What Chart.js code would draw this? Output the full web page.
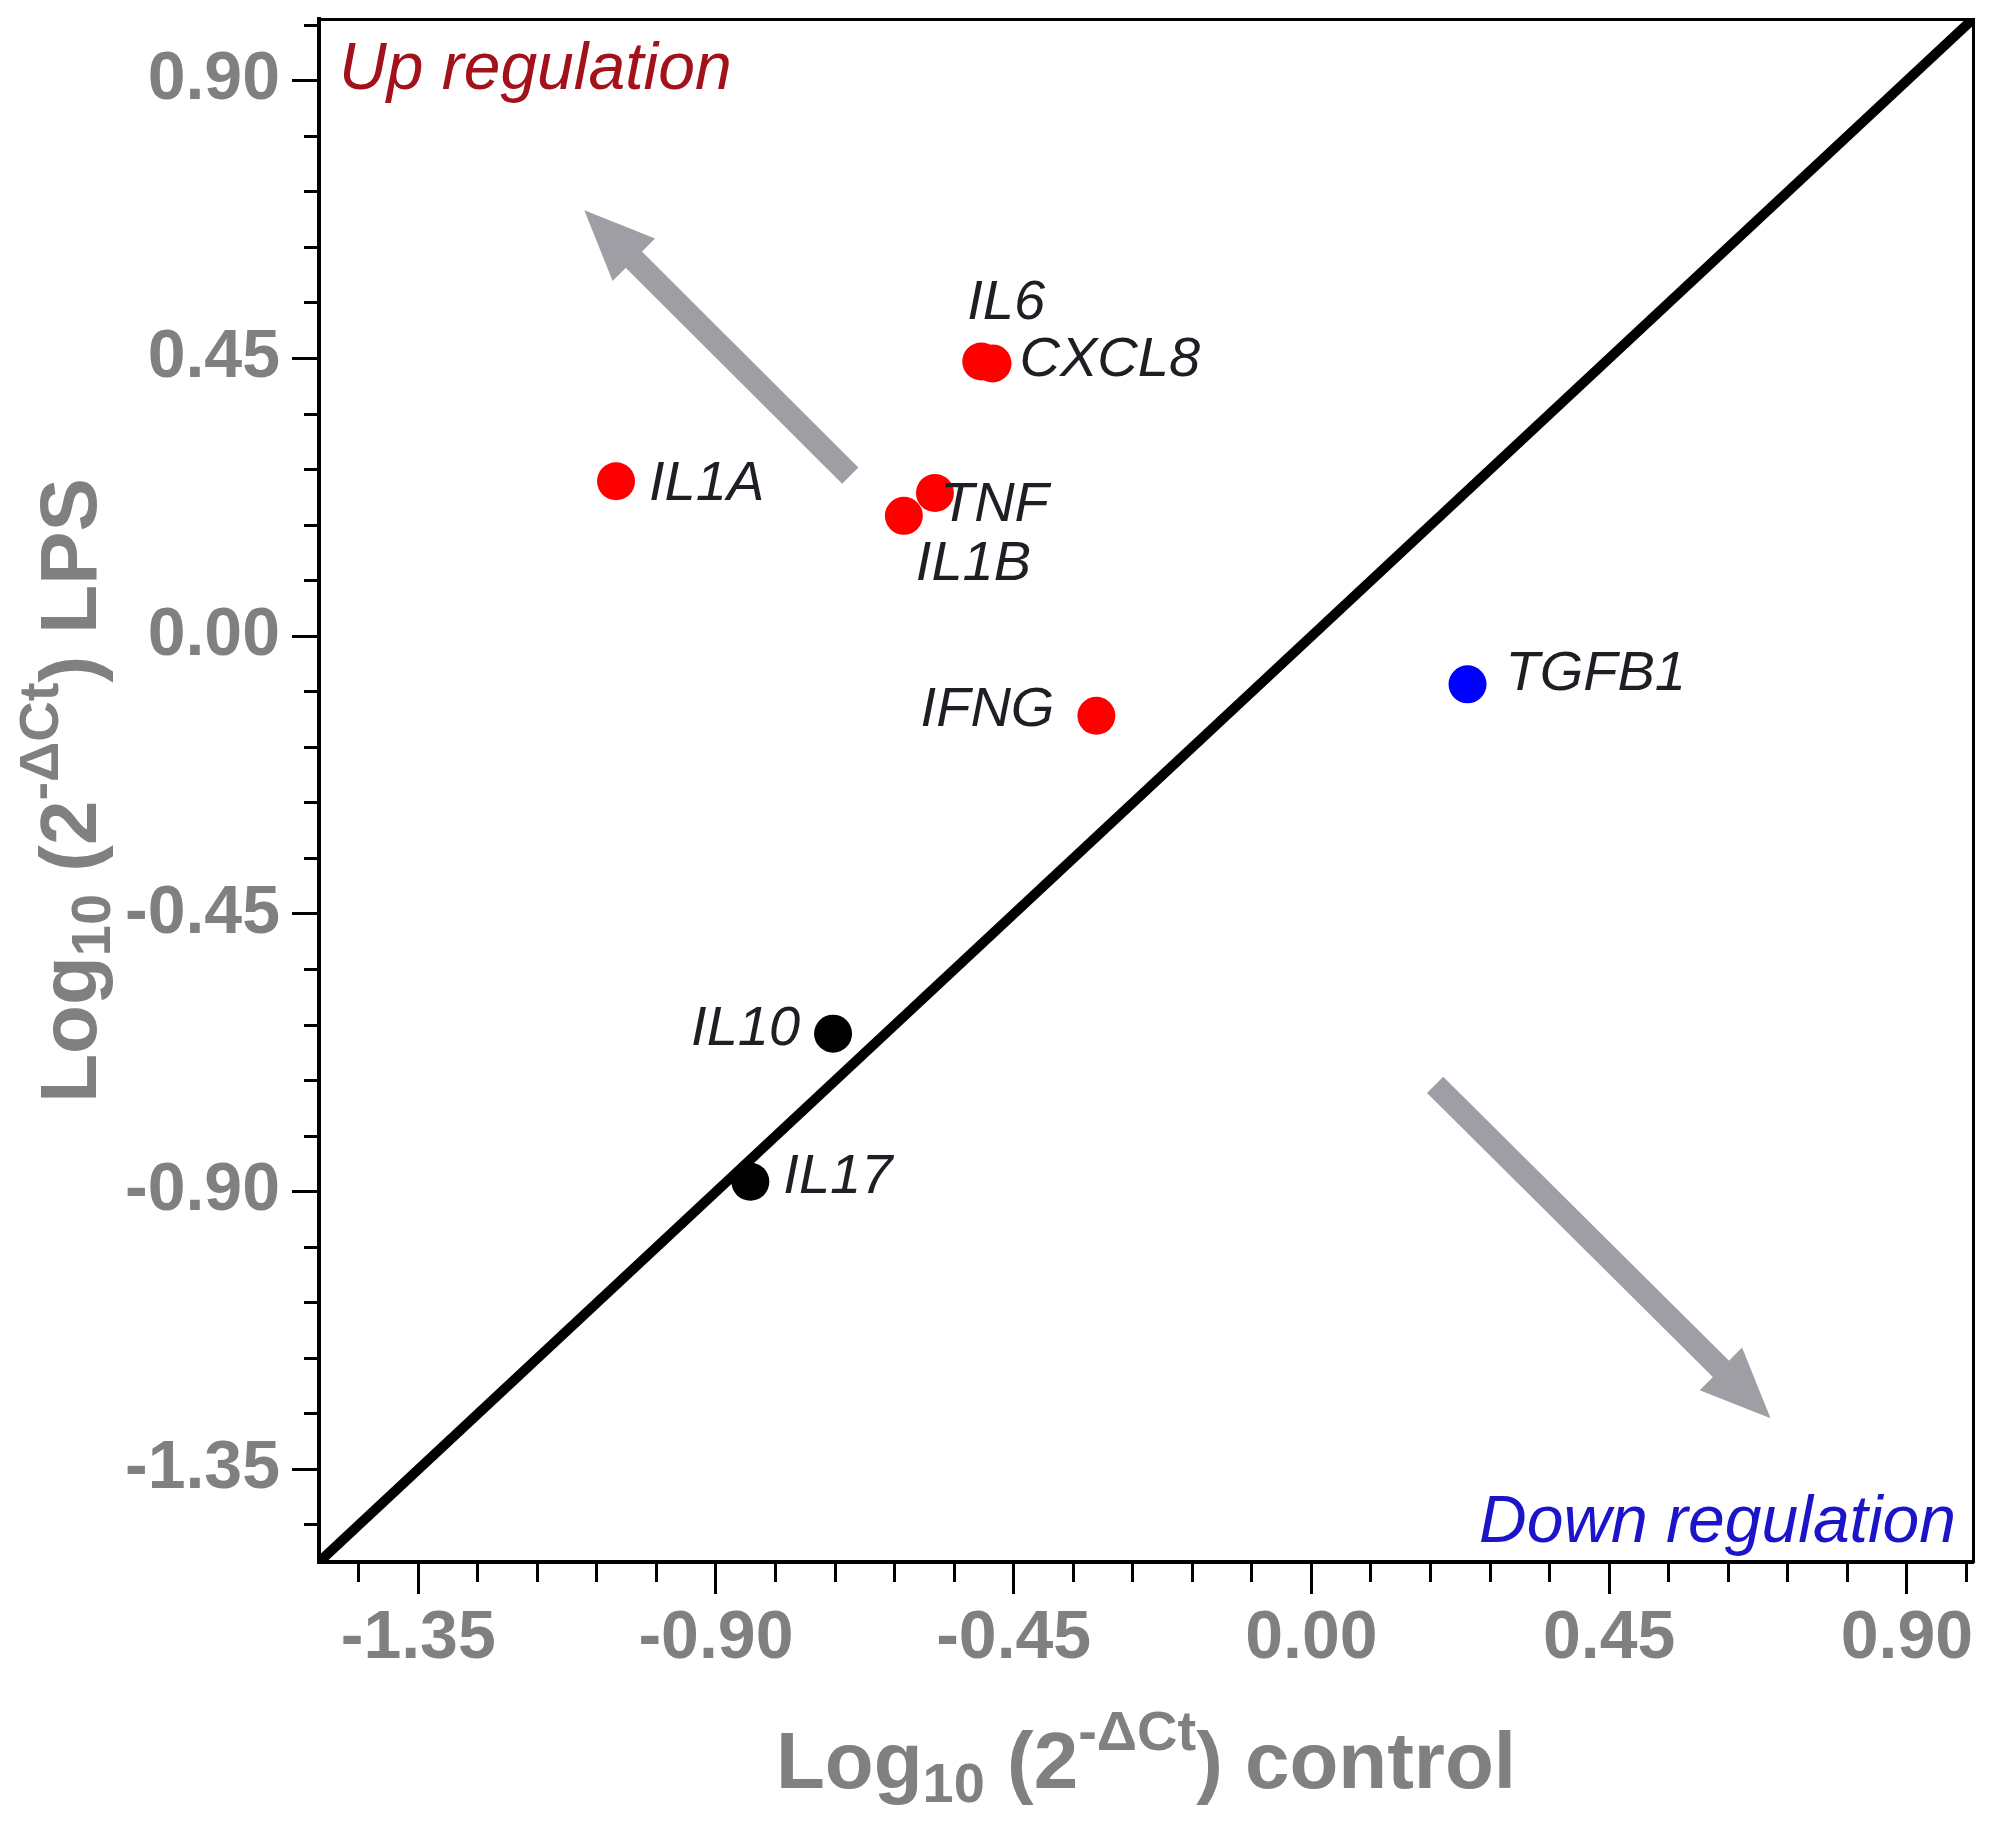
<!DOCTYPE html>
<html><head><meta charset="utf-8">
<script src="https://cdn.jsdelivr.net/npm/chart.js@4.4.0/dist/chart.umd.min.js"></script>
<style>html,body{margin:0;padding:0;background:#fff;} #wrap{width:2015px;height:1833px;}</style>
</head><body><div id="wrap"><canvas id="c" width="2015" height="1833" style="width:2015px;height:1833px"></canvas></div>
<script>
// ---- data ----
const upGenes = ['IL1A', 'IL6', 'CXCL8', 'TNF', 'IL1B', 'IFNG'];
const upControl = [-1.051, -0.499, -0.482, -0.569, -0.616, -0.325];
const upLPS = [0.251, 0.445, 0.442, 0.232, 0.195, -0.129];
const downGenes = ['TGFB1'];
const downControl = [0.236];
const downLPS = [-0.078];
const stableGenes = ['IL10', 'IL17'];
const stableControl = [-0.723, -0.848];
const stableLPS = [-0.644, -0.884];
const identityX = [-1.5, 1.0];
const identityY = [-1.5, 1.0];
const axisMin = -1.5, axisMax = 1.0;
const majorTickLabels = ['-1.35', '-0.90', '-0.45', '0.00', '0.45', '0.90'];
const minorTickStep = 0.09;
const arrowFrom = [[-0.697, 0.260], [0.187, -0.727]];
const arrowTo = [[-1.099, 0.690], [0.694, -1.267]];

// ---- ticks ----
const majorValues = majorTickLabels.map(Number);
const tickValues = [];
for (let i = Math.ceil(axisMin / minorTickStep - 1e-9); i * minorTickStep <= axisMax + 1e-9; i++) {
  tickValues.push(+(i * minorTickStep).toFixed(2));
}
const isMajor = v => majorValues.some(m => Math.abs(m - v) < 1e-6);
const tickLabel = v => { const k = majorValues.findIndex(m => Math.abs(m - v) < 1e-6); return k >= 0 ? majorTickLabels[k] : ''; };

const FONT = "'Liberation Sans', Arial, Helvetica, sans-serif";
const GRAY = '#808080';

// label placement (pixels, relative to point)
const labelPlace = {
  IL1A: {align: 'left', dx: 33, dy: 3},
  IL6: {align: 'left', dx: -14, dy: -58},
  CXCL8: {align: 'left', dx: 27, dy: -3},
  TNF: {align: 'left', dx: 5, dy: 12},
  IL1B: {align: 'left', dx: 12, dy: 49},
  IFNG: {align: 'right', dx: -42, dy: -5},
  TGFB1: {align: 'left', dx: 38, dy: -10},
  IL10: {align: 'right', dx: -33, dy: -4},
  IL17: {align: 'left', dx: 33, dy: -4}
};

const toPts = (xs, ys) => xs.map((x, i) => ({x: x, y: ys[i]}));

const arrowsPlugin = {
  id: 'arrows',
  beforeDatasetsDraw(chart) {
    const {ctx, scales: {x, y}} = chart;
    ctx.save();
    ctx.fillStyle = '#9e9ea4';
    ctx.strokeStyle = '#9e9ea4';
    arrowFrom.forEach((f, i) => {
      const t = arrowTo[i];
      const x0 = x.getPixelForValue(f[0]), y0 = y.getPixelForValue(f[1]);
      const x1 = x.getPixelForValue(t[0]), y1 = y.getPixelForValue(t[1]);
      const L = Math.hypot(x1 - x0, y1 - y0);
      const ux = (x1 - x0) / L, uy = (y1 - y0) / L;
      const headLen = 70, headHalf = 30;
      const bx = x1 - ux * headLen, by = y1 - uy * headLen;
      ctx.lineWidth = 23;
      ctx.lineCap = 'butt';
      ctx.beginPath();
      ctx.moveTo(x0, y0);
      ctx.lineTo(bx + ux * 4, by + uy * 4);
      ctx.stroke();
      ctx.beginPath();
      ctx.moveTo(x1, y1);
      ctx.lineTo(bx - uy * headHalf, by + ux * headHalf);
      ctx.lineTo(bx + uy * headHalf, by - ux * headHalf);
      ctx.closePath();
      ctx.fill();
    });
    ctx.restore();
  }
};

const geneLabelsPlugin = {
  id: 'geneLabels',
  afterDatasetsDraw(chart) {
    const {ctx} = chart;
    ctx.save();
    ctx.font = 'italic 56px ' + FONT;
    ctx.fillStyle = '#1e1e24';
    ctx.textBaseline = 'middle';
    chart.data.datasets.forEach((ds, di) => {
      if (!ds.genes) return;
      const meta = chart.getDatasetMeta(di);
      meta.data.forEach((el, j) => {
        const g = ds.genes[j];
        const p = labelPlace[g];
        ctx.textAlign = p.align;
        ctx.fillText(g, el.x + p.dx, el.y + p.dy);
      });
    });
    ctx.restore();
  }
};

function drawRich(ctx, segs, cx, baseY, color) {
  let total = 0;
  segs.forEach(s => { ctx.font = 'bold ' + s.size + 'px ' + FONT; s.w = ctx.measureText(s.t).width; total += s.w; });
  let x = cx - total / 2;
  ctx.fillStyle = color;
  ctx.textAlign = 'left';
  ctx.textBaseline = 'alphabetic';
  segs.forEach(s => { ctx.font = 'bold ' + s.size + 'px ' + FONT; ctx.fillText(s.t, x, baseY + s.dy); x += s.w; });
}

const notesPlugin = {
  id: 'notes',
  afterDraw(chart) {
    const {ctx, chartArea} = chart;
    ctx.save();
    ctx.font = 'italic 66px ' + FONT;
    ctx.textBaseline = 'alphabetic';
    ctx.fillStyle = '#a3111b';
    ctx.textAlign = 'left';
    ctx.fillText('Up regulation', chartArea.left + 20, chartArea.top + 70);
    ctx.fillStyle = '#1c14c8';
    ctx.textAlign = 'right';
    ctx.fillText('Down regulation', chartArea.right - 17, chartArea.bottom - 20);

    const cx = (chartArea.left + chartArea.right) / 2;
    drawRich(ctx, [
      {t: 'Log', size: 80, dy: 0}, {t: '10', size: 56, dy: 14}, {t: ' (2', size: 80, dy: 0},
      {t: '-\u0394Ct', size: 56, dy: -38}, {t: ') control', size: 80, dy: 0}
    ], cx, 1788, GRAY);

    const cy = (chartArea.top + chartArea.bottom) / 2;
    ctx.translate(96, cy);
    ctx.rotate(-Math.PI / 2);
    drawRich(ctx, [
      {t: 'Log', size: 80, dy: 0}, {t: '10', size: 56, dy: 14}, {t: ' (2', size: 80, dy: 0},
      {t: '-\u0394Ct', size: 56, dy: -38}, {t: ') LPS', size: 80, dy: 0}
    ], 0, 0, GRAY);
    ctx.restore();
  }
};

function mainAxis(pos, tl, minorDash, size) {
  return {
    type: 'linear', position: pos, min: axisMin, max: axisMax,
    afterBuildTicks: s => { s.ticks = tickValues.map(v => ({value: v})); },
    afterFit: s => {
      if (pos === 'left') s.width = size; else s.height = size;
      s.paddingTop = 0; s.paddingBottom = 0; s.paddingLeft = 0; s.paddingRight = 0;
    },
    ticks: {
      autoSkip: false, maxRotation: 0, minRotation: 0,
      padding: pos === 'left' ? 12 : 4,
      color: GRAY,
      font: {family: FONT, size: 68, weight: 'bold'},
      callback: v => tickLabel(v)
    },
    grid: {
      drawOnChartArea: false, drawTicks: true, tickLength: tl,
      tickColor: '#000', tickWidth: 3,
      tickBorderDash: ctx => (ctx.tick && isMajor(ctx.tick.value)) ? [] : minorDash
    },
    border: {display: true, color: '#000', width: 4}
  };
}

function frameAxis(pos) {
  return {
    type: 'linear', position: pos, min: axisMin, max: axisMax, display: true,
    afterFit: s => {
      if (pos === 'right') s.width = 0; else s.height = 0;
      s.paddingTop = 0; s.paddingBottom = 0; s.paddingLeft = 0; s.paddingRight = 0;
    },
    ticks: {display: false},
    grid: {drawOnChartArea: false, drawTicks: false},
    border: {display: true, color: '#000', width: 3}
  };
}

new Chart(document.getElementById('c'), {
  type: 'scatter',
  data: {
    datasets: [
      {type: 'line', label: 'y = x', data: toPts(identityX, identityY), borderColor: '#000', borderWidth: 10,
       pointRadius: 0, fill: false, order: 0},
      {label: 'Up', genes: upGenes, data: toPts(upControl, upLPS), backgroundColor: '#ff0000', borderWidth: 0, pointRadius: 19, order: 1},
      {label: 'Down', genes: downGenes, data: toPts(downControl, downLPS), backgroundColor: '#0000ff', borderWidth: 0, pointRadius: 19, order: 1},
      {label: 'Unchanged', genes: stableGenes, data: toPts(stableControl, stableLPS), backgroundColor: '#000000', borderWidth: 0, pointRadius: 19, order: 1}
    ]
  },
  options: {
    responsive: false, animation: false, devicePixelRatio: 1, events: [],
    layout: {padding: {top: 15, right: 42, left: 0, bottom: 0}},
    plugins: {legend: {display: false}, tooltip: {enabled: false}},
    scales: {
      x: mainAxis('bottom', 32, [18, 300], 271),
      y: mainAxis('left', 27, [0, 12, 13, 300], 319),
      x2: frameAxis('top'),
      y2: frameAxis('right')
    }
  },
  plugins: [arrowsPlugin, geneLabelsPlugin, notesPlugin]
});
</script></body></html>
